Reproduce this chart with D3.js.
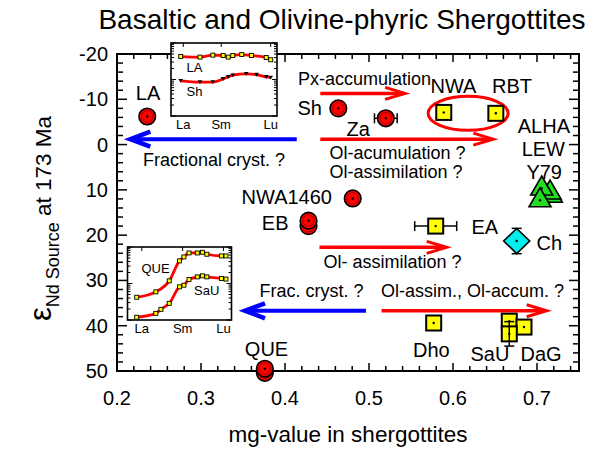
<!DOCTYPE html>
<html><head><meta charset="utf-8">
<script src="https://cdn.jsdelivr.net/npm/d3@7"></script>
<style>body{margin:0;background:#fff} text{font-family:"Liberation Sans",Arial,Helvetica,sans-serif;fill:#000}</style>
</head><body><svg id="c" width="594" height="449"></svg>
<script>
// ---------- data ----------
const title = "Basaltic and Olivine-phyric Shergottites";
const xTicks = [0.2, 0.3, 0.4, 0.5, 0.6, 0.7];
const yTicks = [-20, -10, 0, 10, 20, 30, 40, 50];
const circleSamples = [
  {name:"LA", x:0.236, y:-6.2},
  {name:"Sh", x:0.4635, y:-8.0},
  {name:"Za", x:0.520, y:-5.8, xerr:0.0135},
  {name:"NWA1460", x:0.4806, y:11.9},
  {name:"EB", x:0.428, y:18.0},
  {name:"EB", x:0.428, y:16.8},
  {name:"QUE", x:0.376, y:50.4},
  {name:"QUE", x:0.376, y:49.5}
];
const squareSamples = [
  {name:"NWA", x:0.589, y:-7.1},
  {name:"RBT", x:0.651, y:-6.9},
  {name:"EA", x:0.5794, y:18.0, xerr:0.025},
  {name:"Dho", x:0.577, y:39.4},
  {name:"SaU", x:0.667, y:39.0},
  {name:"DaG", x:0.6845, y:40.3},
  {name:"SaU", x:0.667, y:41.8, yerr:2.7}
];
const triangleSamples = [
  {name:"ALHA", x:0.717, y:11.3},
  {name:"LEW", x:0.7155, y:10.6},
  {name:"ALHA", x:0.7056, y:9.7},
  {name:"Y79", x:0.7036, y:12.3}
];
const diamondSamples = [ {name:"Ch", x:0.6758, y:21.3, yerr:2.8} ];
const redArrows = [
  {x1:0.442, x2:0.543, y:-11.3},
  {x1:0.442, x2:0.648, y:-1.2},
  {x1:0.441, x2:0.5925, y:22.7},
  {x1:0.515, x2:0.7115, y:36.7}
];
const blueArrows = [
  {x1:0.414, x2:0.2135, y:-1.2},
  {x1:0.4964, x2:0.350, y:36.7}
];
const groupEllipse = {x:0.618, y:-6.9};
const laREE = {idx:[0,3,5,6.6,7.4,8.1,9.5,11,13.3,14], val:[42.6,41.1,46.5,45.4,41.1,45.4,48.3,45.4,40.1,34.7]};
const shREE = {idx:[0,3,5,6.6,7.4,8.1,10.2,11.8,13.3,14], val:[9.2,8.5,8.5,10.4,11.8,13.1,14.3,13.6,11.8,11.3]};
const queREE = {idx:[0,3,5.1,6.7,7.4,8.2,9.5,10.3,11,13.3,14], val:[4.2,5.9,11.8,41.6,53.5,68.7,68.7,71.8,63.3,56.9,56.9]};
const sauREE = {idx:[0,3,3.8,5.1,6.7,7.4,8.2,9.5,10.3,11,13.3,14], val:[1.19,1.52,1.96,2.86,8.1,9.0,12.9,15.2,16.2,15.2,13.7,13.2]};
const inset1Ticks = [{t:"La", i:0.4},{t:"Sm", i:6.3},{t:"Lu", i:14}];
const inset2Ticks = [{t:"La", i:0.8},{t:"Sm", i:7.2},{t:"Lu", i:13.6}];

// ---------- drawing ----------
const svg = d3.select("#c");
const L=117, R=579, T=54, B=371;
const x = d3.scaleLinear().domain([0.2,0.75]).range([L,R]);
const y = d3.scaleLinear().domain([-20,50]).range([T,B]);

svg.append("text").attr("x",342).attr("y",29).attr("text-anchor","middle")
  .style("font-size","28px").text(title);

svg.append("rect").attr("x",L).attr("y",T).attr("width",R-L).attr("height",B-T)
  .attr("fill","none").attr("stroke","#000").attr("stroke-width",2);
const tk = svg.append("g").attr("stroke","#000").attr("stroke-width",1.5);
d3.range(-20,50.01,2).forEach(v=>{
  const maj = Math.abs(v%10)<1e-6, len = maj?10:6;
  tk.append("line").attr("x1",L).attr("x2",L+len).attr("y1",y(v)).attr("y2",y(v));
  tk.append("line").attr("x1",R).attr("x2",R-len).attr("y1",y(v)).attr("y2",y(v));
});
d3.range(0,28).map(i=>0.2+i*0.02).forEach((v,i)=>{
  const len = (i%5===0)?8:5;
  tk.append("line").attr("x1",x(v)).attr("x2",x(v)).attr("y1",B).attr("y2",B-len);
  tk.append("line").attr("x1",x(v)).attr("x2",x(v)).attr("y1",T).attr("y2",T+len);
});
yTicks.forEach(v=>svg.append("text").attr("x",108).attr("y",y(v)+7).attr("text-anchor","end")
  .style("font-size","20px").text(v));
xTicks.forEach(v=>svg.append("text").attr("x",x(v)).attr("y",405).attr("text-anchor","middle")
  .style("font-size","20px").text(v.toFixed(1)));
svg.append("text").attr("x",348).attr("y",441.5).attr("text-anchor","middle")
  .style("font-size","22.5px").text("mg-value in shergottites");
const yl = svg.append("text").attr("transform","translate(51,218.5) rotate(-90)").attr("text-anchor","middle");
yl.append("tspan").style("font-size","31px").text("ε");
yl.append("tspan").style("font-size","18px").attr("dy",8).text("Nd Source");
yl.append("tspan").style("font-size","22.5px").attr("dy",-8).text(" at 173 Ma");

const arrowG = svg.append("g").attr("fill","none");
redArrows.forEach(a=>{
  const x1=x(a.x1), x2=x(a.x2), yy=y(a.y);
  arrowG.append("line").attr("x1",x1).attr("x2",x2-2).attr("y1",yy).attr("y2",yy)
    .attr("stroke","#ff0000").attr("stroke-width",3.5);
  arrowG.append("path").attr("d",`M${x2-20},${yy-6}L${x2},${yy}L${x2-20},${yy+6}`)
    .attr("stroke","#ff0000").attr("stroke-width",3);
});
blueArrows.forEach(a=>{
  const x1=x(a.x1), x2=x(a.x2), yy=y(a.y);
  arrowG.append("line").attr("x1",x1).attr("x2",x2+3).attr("y1",yy).attr("y2",yy)
    .attr("stroke","#0000ff").attr("stroke-width",4);
  arrowG.append("path").attr("d",`M${x2+22},${yy-7.5}L${x2+2},${yy}L${x2+22},${yy+7.5}`)
    .attr("stroke","#0000ff").attr("stroke-width",4.5);
});
svg.append("ellipse").attr("cx",x(groupEllipse.x)).attr("cy",y(groupEllipse.y)).attr("rx",40).attr("ry",17)
  .attr("fill","none").attr("stroke","#ff0000").attr("stroke-width",3);

const notes = [
  ["Px-accumulation",298,85,"start"],
  ["Fractional cryst. ?",285,166,"end"],
  ["Ol-acumulation ?",329.5,159,"start"],
  ["Ol-assimilation ?",329.5,177.5,"start"],
  ["Ol- assimilation ?",323.5,268,"start"],
  ["Frac. cryst. ?",363.5,296.5,"end"],
  ["Ol-assim., Ol-accum. ?",381,296.5,"start"]
];
notes.forEach(n=>svg.append("text").attr("x",n[1]).attr("y",n[2]).attr("text-anchor",n[3])
  .style("font-size","18px").text(n[0]));
const labels = [
  ["LA",148,100,"middle"],["Sh",322,115,"end"],["Za",346.5,136,"start"],
  ["NWA",430.5,93,"start"],["RBT",492,93,"start"],
  ["ALHA",570,133,"end"],["LEW",565,156,"end"],["Y79",562,178.5,"end"],
  ["NWA1460",332,203.5,"end"],["EB",288.5,230,"end"],["EA",471.5,233.5,"start"],
  ["Ch",536.5,250,"start"],["Dho",413,357,"start"],["SaU",470.5,361,"start"],
  ["DaG",520.5,361,"start"],["QUE",266.5,356,"middle"]
];
labels.forEach(n=>svg.append("text").attr("x",n[1]).attr("y",n[2]).attr("text-anchor",n[3])
  .style("font-size","20px").text(n[0]));

function inset(bx,by,bw,bh,x0,x1,series,ticks,names){
  const g = svg.append("g");
  g.append("rect").attr("x",bx).attr("y",by).attr("width",bw).attr("height",bh)
    .attr("fill","#fff").attr("stroke","#000").attr("stroke-width",1.6);
  const ix = d3.scaleLinear().domain([0,14]).range([x0,x1]);
  const iy = d3.scaleLog().domain([1,100]).range([by+bh,by]);
  const tg = g.append("g").attr("stroke","#000").attr("stroke-width",1);
  [1,2,3,4,5,6,7,8,9,10,20,30,40,50,60,70,80,90,100].forEach(v=>{
    const len = (v===1||v===10||v===100)?5:3;
    tg.append("line").attr("x1",bx).attr("x2",bx+len).attr("y1",iy(v)).attr("y2",iy(v));
    tg.append("line").attr("x1",bx+bw).attr("x2",bx+bw-len).attr("y1",iy(v)).attr("y2",iy(v));
  });
  ticks.forEach(t=>{
    tg.append("line").attr("x1",ix(t.i)).attr("x2",ix(t.i)).attr("y1",by).attr("y2",by+4);
    g.append("text").attr("x",ix(t.i)).attr("y",by+bh+12.5).attr("text-anchor","middle")
      .style("font-size","13px").text(t.t);
  });
  const line = d3.line().x(d=>ix(d[0])).y(d=>iy(d[1])).curve(d3.curveMonotoneX);
  series.forEach(s=>{
    const pts = s.d.idx.map((v,i)=>[v,s.d.val[i]]);
    g.append("path").attr("d",line(pts)).attr("fill","none").attr("stroke","#ff0000").attr("stroke-width",2.8);
    pts.forEach(p=>{
      if(s.m==="tri"){
        g.append("path").attr("d",`M${ix(p[0])-2.3},${iy(p[1])-1.8}L${ix(p[0])+2.3},${iy(p[1])-1.8}L${ix(p[0])},${iy(p[1])+2}Z`)
          .attr("fill","#000");
      } else {
        g.append("rect").attr("x",ix(p[0])-2).attr("y",iy(p[1])-2).attr("width",4).attr("height",4)
          .attr("fill","#ff0").attr("stroke","#000").attr("stroke-width",0.9);
      }
    });
  });
  names.forEach(n=>g.append("text").attr("x",n[1]).attr("y",n[2]).style("font-size","13px").text(n[0]));
}
inset(171,43,106,73,180.7,270.7,[{d:laREE,m:"sq"},{d:shREE,m:"tri"}],inset1Ticks,[["LA",186.5,71.5],["Sh",186.5,96]]);
inset(127.5,247,104,73,136.7,226,[{d:queREE,m:"sq"},{d:sauREE,m:"sq"}],inset2Ticks,[["QUE",141.5,272.5],["SaU",194,295]]);

const mg = svg.append("g");
function errX(d){ if(!d.xerr) return;
  mg.append("line").attr("x1",x(d.x-d.xerr)).attr("x2",x(d.x+d.xerr)).attr("y1",y(d.y)).attr("y2",y(d.y)).attr("stroke","#000").attr("stroke-width",1.5);
  [d.x-d.xerr,d.x+d.xerr].forEach(v=>mg.append("line").attr("x1",x(v)).attr("x2",x(v)).attr("y1",y(d.y)-5).attr("y2",y(d.y)+5).attr("stroke","#000").attr("stroke-width",1.5));
}
function errY(d){ if(!d.yerr) return;
  mg.append("line").attr("x1",x(d.x)).attr("x2",x(d.x)).attr("y1",y(d.y-d.yerr)).attr("y2",y(d.y+d.yerr)).attr("stroke","#000").attr("stroke-width",1.5);
  [d.y-d.yerr,d.y+d.yerr].forEach(v=>mg.append("line").attr("x1",x(d.x)-5).attr("x2",x(d.x)+5).attr("y1",y(v)).attr("y2",y(v)).attr("stroke","#000").attr("stroke-width",1.5));
}
function dot(d){ mg.append("circle").attr("cx",x(d.x)).attr("cy",y(d.y)).attr("r",1.2).attr("fill","#000"); }
circleSamples.forEach(d=>{
  errX(d);
  mg.append("circle").attr("cx",x(d.x)).attr("cy",y(d.y)).attr("r",8.3).attr("fill","#ff0000").attr("stroke","#000").attr("stroke-width",1.6);
  mg.append("circle").attr("cx",x(d.x)).attr("cy",y(d.y)).attr("r",5.8).attr("fill","none").attr("stroke","#700").attr("stroke-width",0.7);
  dot(d);
});
squareSamples.forEach(d=>{
  errX(d);
  mg.append("rect").attr("x",x(d.x)-7.5).attr("y",y(d.y)-7.5).attr("width",15).attr("height",15)
    .attr("fill","#ffff00").attr("stroke","#000").attr("stroke-width",2);
  errY(d);
  dot(d);
});
triangleSamples.forEach(d=>{
  const cx=x(d.x), cy=y(d.y);
  mg.append("path").attr("d",`M${cx},${cy-12.5}L${cx+11},${cy+6.5}L${cx-11},${cy+6.5}Z`)
    .attr("fill","#22dd22").attr("stroke","#000").attr("stroke-width",1.6).attr("stroke-linejoin","miter");
  dot(d);
});
diamondSamples.forEach(d=>{
  errY(d);
  const cx=x(d.x), cy=y(d.y);
  mg.append("path").attr("d",`M${cx},${cy-12.5}L${cx+13},${cy}L${cx},${cy+12.5}L${cx-13},${cy}Z`)
    .attr("fill","#00eeee").attr("stroke","#000").attr("stroke-width",1.6);
  dot(d);
});
</script></body></html>
